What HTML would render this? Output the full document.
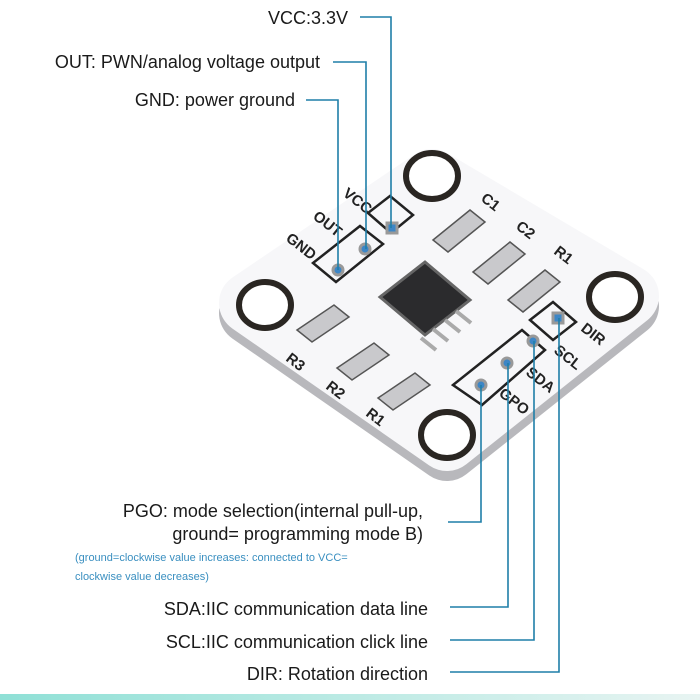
<!DOCTYPE html>
<html><head><style>
html,body{margin:0;padding:0;background:#fff;}
svg{display:block;}
text{font-family:"Liberation Sans",Arial,sans-serif;}
</style></head><body>
<svg width="700" height="700" viewBox="0 0 700 700" xmlns="http://www.w3.org/2000/svg">
<defs>
<linearGradient id="bar" x1="0" x2="1"><stop offset="0" stop-color="#8fe0d6"/><stop offset="1" stop-color="#e8f4f2"/></linearGradient>
</defs>
<!-- board edge/shadow -->
<polygon points="432,180 628,296 447,440 250,303" fill="#b8b8bc" stroke="#b8b8bc" stroke-width="62" stroke-linejoin="round" transform="translate(0,10)"/>
<polygon points="432,180 628,296 447,440 250,303" fill="#f7f7f9" stroke="#f7f7f9" stroke-width="62" stroke-linejoin="round"/>
<!-- holes -->
<g fill="#fff" stroke="#2a2622" stroke-width="6">
<ellipse cx="432" cy="176" rx="26" ry="23"/>
<ellipse cx="615" cy="297" rx="26" ry="23"/>
<ellipse cx="447" cy="435" rx="26" ry="23"/>
<ellipse cx="265" cy="305" rx="26" ry="23"/>
</g>
<!-- pin header outlines -->
<g fill="none" stroke="#222" stroke-width="2.5">
<polygon points="313,263 360,226 383,244 336,282"/>
<polygon points="368,213 390,196 413,215 391,233"/>
<polygon points="453,385 522,330 545,350 482,405"/>
<polygon points="530,320 553,302 576,322 553,340"/>
</g>
<g fill="#3d86c6" stroke="#999" stroke-width="3">
<circle cx="338" cy="270" r="5"/><circle cx="365" cy="249" r="5"/><rect x="387" y="223" width="10" height="10"/>
<circle cx="481" cy="385" r="5"/><circle cx="507" cy="363" r="5"/><circle cx="533" cy="341" r="5"/><rect x="553" y="313" width="10" height="10"/>
</g>
<!-- silkscreen labels -->
<g font-weight="bold" font-size="15" fill="#222">
<text transform="translate(285,240) rotate(38)">GND</text>
<text transform="translate(312,218) rotate(38)">OUT</text>
<text transform="translate(342,195) rotate(38)">VCC</text>
<text transform="translate(480,200) rotate(38)">C1</text>
<text transform="translate(515,228) rotate(38)">C2</text>
<text transform="translate(553,253) rotate(38)">R1</text>
<text transform="translate(580,330) rotate(38)">DIR</text>
<text transform="translate(553,352) rotate(38)">SCL</text>
<text transform="translate(525,374) rotate(38)">SDA</text>
<text transform="translate(498,395) rotate(38)">GPO</text>
<text transform="translate(285,360) rotate(38)">R3</text>
<text transform="translate(325,388) rotate(38)">R2</text>
<text transform="translate(365,415) rotate(38)">R1</text>
</g>
<!-- components -->
<g fill="#c9c9cc" stroke="#555" stroke-width="1.5">
<polygon points="433,240 470,210 485,222 448,252"/>
<polygon points="473,272 510,242 525,254 488,284"/>
<polygon points="508,300 545,270 560,282 523,312"/>
<polygon points="297,330 334,305 349,317 312,342"/>
<polygon points="337,368 374,343 389,355 352,380"/>
<polygon points="378,398 415,373 430,385 393,410"/>
</g>
<!-- chip -->
<polygon points="380,297 425,262 470,300 425,335" fill="#2b2b2d" stroke="#666" stroke-width="3"/>
<g stroke="#aaa" stroke-width="4">
<line x1="445" y1="320" x2="460" y2="332"/><line x1="433" y1="329" x2="448" y2="341"/><line x1="456" y1="311" x2="471" y2="323"/><line x1="421" y1="338" x2="436" y2="350"/>
</g>
<!-- connector lines -->
<g fill="none" stroke="#1f7fa8" stroke-width="1.6">
<polyline points="360,17 391,17 391,228"/>
<polyline points="333,62 366,62 366,249"/>
<polyline points="306,100 338,100 338,270"/>
<polyline points="448,522 481,522 481,385"/>
<polyline points="450,607 508,607 508,363"/>
<polyline points="450,640 534,640 534,341"/>
<polyline points="450,672 559,672 559,318"/>
</g>
<!-- labels -->
<g font-size="18" fill="#1a1a1a">
<text x="348" y="24" text-anchor="end">VCC:3.3V</text>
<text x="320" y="68" text-anchor="end">OUT: PWN/analog voltage output</text>
<text x="295" y="106" text-anchor="end">GND: power ground</text>
<text x="423" y="517" text-anchor="end">PGO: mode selection(internal pull-up,</text>
<text x="423" y="540" text-anchor="end">ground= programming mode B)</text>
<text x="428" y="615" text-anchor="end">SDA:IIC communication data line</text>
<text x="428" y="648" text-anchor="end">SCL:IIC communication click line</text>
<text x="428" y="680" text-anchor="end">DIR: Rotation direction</text>
</g>
<g font-size="11" fill="#3a8fc0">
<text x="75" y="561">(ground=clockwise value increases: connected to VCC=</text>
<text x="75" y="580">clockwise value decreases)</text>
</g>
<rect x="0" y="694" width="700" height="6" fill="url(#bar)"/>
</svg>
</body></html>
